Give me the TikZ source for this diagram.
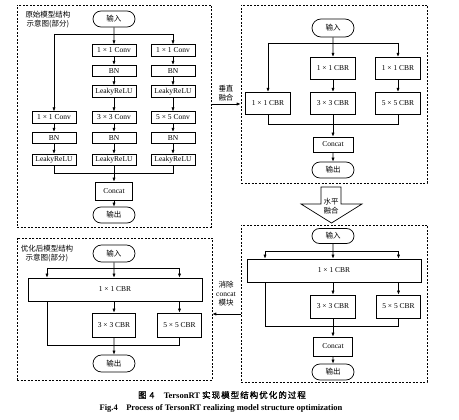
\documentclass[tikz,border=0pt]{standalone}
\usepackage{fontspec}
\setmainfont{Liberation Serif}
\newfontfamily\cjk{Noto Sans CJK SC}
\newfontfamily\cjkb{Noto Sans CJK SC}[FakeBold=1,LetterSpace=12]
\usetikzlibrary{shapes.misc,arrows.meta}
\begin{document}
\begin{tikzpicture}[x=1pt,y=-1pt,
  ln/.style={line width=0.7pt},
  arr/.style={ln,-{Latex[length=4pt,width=3.2pt]}},
  box/.style={draw,ln,inner sep=0pt,font=\fontsize{7.5}{9}\selectfont,minimum height=11.5pt,minimum width=44pt},
  boxb/.style={box,minimum height=22.5pt,minimum width=44.5pt},
  pill/.style={draw,ln,rounded rectangle,inner sep=0pt,minimum width=42pt,minimum height=16pt,font=\fontsize{7.5}{9}\selectfont\cjk},
  panel/.style={draw,line width=0.6pt,dash pattern=on 2pt off 1.5pt,inner sep=0pt},
  lbl/.style={font=\fontsize{7.5}{9}\selectfont\cjk,align=center,inner sep=0pt}
]
\fill[white] (0,0) rectangle (459,420);
\useasboundingbox (0,0) rectangle (459,420);

% ---------- panels ----------
\node[panel,minimum width=194pt,minimum height=222pt] (P1) at (114,116) {};
\node[panel,minimum width=186pt,minimum height=178pt] (P2) at (334,94) {};
\node[panel,minimum width=195pt,minimum height=142pt] (P3) at (114.5,309) {};
\node[panel,minimum width=186pt,minimum height=157pt] (P4) at (334,303.5) {};

% ---------- panel 1 ----------
\node[lbl] (t1) at (48,20) {原始模型结构\\示意图(部分)};
\node[pill] (in1) at (114,19) {输入};
\node[box] (c2a) at (114,50.5) {1 × 1 Conv};
\node[box] (c2b) at (114,71) {BN};
\node[box] (c2c) at (114,91.5) {LeakyReLU};
\node[box] (c2d) at (114,117.5) {3 × 3 Conv};
\node[box] (c2e) at (114,138) {BN};
\node[box] (c2f) at (114,160) {LeakyReLU};
\node[box] (c3a) at (173,50.5) {1 × 1 Conv};
\node[box] (c3b) at (173,71) {BN};
\node[box] (c3c) at (173,91.5) {LeakyReLU};
\node[box] (c3d) at (173,117.5) {5 × 5 Conv};
\node[box] (c3e) at (173,138) {BN};
\node[box] (c3f) at (173,160) {LeakyReLU};
\node[box] (c1d) at (54,117.5) {1 × 1 Conv};
\node[box] (c1e) at (54,138) {BN};
\node[box] (c1f) at (54,160) {LeakyReLU};
\node[box,minimum width=37pt,minimum height=18pt] (cc1) at (114,191) {Concat};
\node[pill] (out1) at (114,215) {输出};

\coordinate (j1) at (114,34);
\coordinate (m1) at (114,173);
\draw[arr] (in1) -- (c2a);
\draw[ln] (c1d.north |- j1) -- (c3a.north |- j1);
\draw[arr] (c1d.north |- j1) -- (c1d);
\draw[arr] (c3a.north |- j1) -- (c3a);
\draw[arr] (c2a) -- (c2b);
\draw[arr] (c2b) -- (c2c);
\draw[arr] (c2c) -- (c2d);
\draw[arr] (c2d) -- (c2e);
\draw[arr] (c2e) -- (c2f);
\draw[arr] (c3a) -- (c3b);
\draw[arr] (c3b) -- (c3c);
\draw[arr] (c3c) -- (c3d);
\draw[arr] (c3d) -- (c3e);
\draw[arr] (c3e) -- (c3f);
\draw[arr] (c1d) -- (c1e);
\draw[arr] (c1e) -- (c1f);
\draw[ln] (c1f) -- (c1f |- m1) -- (c3f |- m1) -- (c3f);
\draw[arr] (c2f) -- (cc1);
\draw[arr] (cc1) -- (out1);

% ---------- panel 2 ----------
\node[pill,minimum height=18pt] (in2) at (333,28) {输入};
\node[boxb] (p2a) at (333,68.5) {1 × 1 CBR};
\node[boxb] (p3a) at (398,68.5) {1 × 1 CBR};
\node[boxb] (p1b) at (268,103.5) {1 × 1 CBR};
\node[boxb] (p2b) at (333,103.5) {3 × 3 CBR};
\node[boxb] (p3b) at (398,103.5) {5 × 5 CBR};
\node[box,minimum width=40pt,minimum height=15pt] (cc2) at (333,144.5) {Concat};
\node[pill] (out2) at (333,170) {输出};
\coordinate (j2) at (333,43);
\coordinate (m2) at (333,124);
\draw[arr] (in2) -- (p2a);
\draw[ln] (p1b.north |- j2) -- (p3a.north |- j2);
\draw[arr] (p1b.north |- j2) -- (p1b);
\draw[arr] (p3a.north |- j2) -- (p3a);
\draw[arr] (p2a) -- (p2b);
\draw[arr] (p3a) -- (p3b);
\draw[ln] (p1b) -- (p1b |- m2) -- (p3b |- m2) -- (p3b);
\draw[arr] (p2b) -- (cc2);
\draw[arr] (cc2) -- (out2);

% ---------- arrow P1 -> P2 ----------
\coordinate (a1) at (226,104);
\node[lbl] (l1) at (226,93) {垂直\\融合};
\draw[arr] (P1.east |- a1) -- (P2.west |- a1);

% ---------- big arrow P2 -> P4 ----------
\draw[ln,fill=white] (321,187) -- (341,187) -- (341,204) -- (362,204) -- (331.5,223) -- (301,204) -- (321,204) -- cycle;
\node[lbl] (l2) at (331,206.5) {水平\\融合};

% ---------- panel 4 ----------
\node[pill,minimum height=15pt] (in4) at (333,236) {输入};
\node[box,minimum width=174pt,minimum height=23pt] (w4) at (334,270.5) {1 × 1 CBR};
\node[boxb,minimum height=23pt] (r2) at (333,306.5) {3 × 3 CBR};
\node[boxb,minimum height=23pt] (r3) at (398.5,306.5) {5 × 5 CBR};
\node[box,minimum width=39pt,minimum height=19pt] (cc4) at (333,346.5) {Concat};
\node[pill] (out4) at (333,372) {输出};
\coordinate (h4l) at (265,251);
\coordinate (h4r) at (398.5,251);
\coordinate (m4) at (333,326);
\draw[ln] (h4l) -- (h4r);
\draw[arr] (in4) -- (in4 |- w4.north);
\draw[arr] (h4l) -- (h4l |- w4.north);
\draw[arr] (h4r) -- (h4r |- w4.north);
\draw[arr] (r2 |- w4.south) -- (r2);
\draw[arr] (r3 |- w4.south) -- (r3);
\draw[ln] (h4l |- w4.south) -- (h4l |- m4) -- (r3 |- m4) -- (r3);
\draw[arr] (r2) -- (cc4);
\draw[arr] (cc4) -- (out4);

% ---------- arrow P4 -> P3 ----------
\coordinate (a2) at (226,314);
\node[lbl] (l3) at (226,294) {消除\\{\rmfamily concat}\\模块};
\draw[arr] (P4.west |- a2) -- (P3.east |- a2);

% ---------- panel 3 ----------
\node[lbl] (t3) at (47,253.5) {优化后模型结构\\示意图(部分)};
\node[pill,minimum height=17pt] (in3) at (114,253.5) {输入};
\node[box,minimum width=174pt,minimum height=23pt] (w3) at (115,289.5) {1 × 1 CBR};
\node[boxb,minimum width=43pt,minimum height=24pt] (q2) at (114,325) {3 × 3 CBR};
\node[boxb,minimum height=24pt] (q3) at (179.5,325) {5 × 5 CBR};
\node[pill,minimum height=17pt] (out3) at (114,363.5) {输出};
\coordinate (h3l) at (47,268);
\coordinate (h3r) at (179.5,268);
\coordinate (m3) at (114,345);
\draw[ln] (h3l) -- (h3r);
\draw[arr] (in3) -- (in3 |- w3.north);
\draw[arr] (h3l) -- (h3l |- w3.north);
\draw[arr] (h3r) -- (h3r |- w3.north);
\draw[arr] (q2 |- w3.south) -- (q2);
\draw[arr] (q3 |- w3.south) -- (q3);
\draw[ln] (h3l |- w3.south) -- (h3l |- m3) -- (q3 |- m3) -- (q3);
\draw[arr] (q2) -- (out3);

% ---------- caption ----------
\node[font=\fontsize{8.5}{10}\selectfont,inner sep=0pt] (cap1) at (222,395) {{\cjkb 图 4}\quad\textbf{TersonRT} {\cjkb 实现模型结构优化的过程}};
\node[font=\fontsize{8.5}{10}\selectfont\bfseries,inner sep=0pt] (cap2) at (221,408) {Fig.4\quad Process of TersonRT realizing model structure optimization};
\end{tikzpicture}
\end{document}
